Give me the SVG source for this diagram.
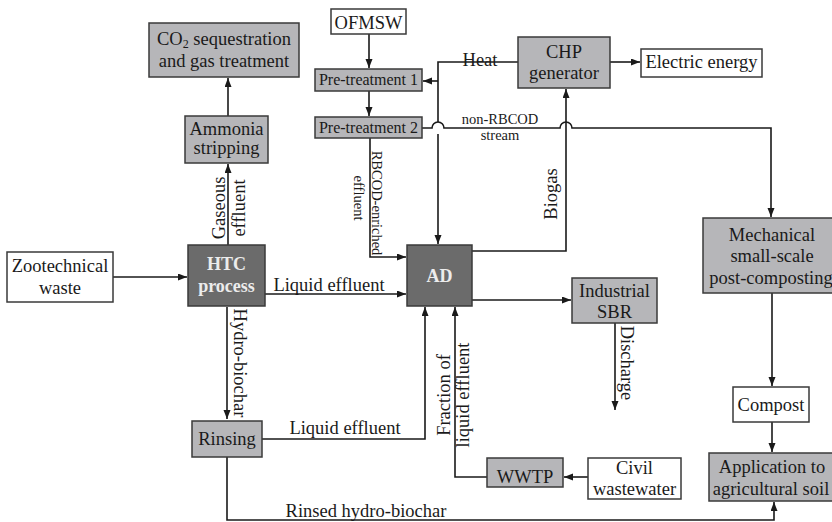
<svg xmlns="http://www.w3.org/2000/svg" width="832" height="522" viewBox="0 0 832 522">
<defs>
<marker id="ah" markerWidth="10" markerHeight="8" refX="9" refY="3.5" orient="auto" markerUnits="userSpaceOnUse">
<path d="M0,0 L9,3.5 L0,7 z" fill="#1a1a1a"/>
</marker>
<style>
.box{stroke:#3a3a3a;stroke-width:1.5}
.lt{fill:#b6b6b9}
.dk{fill:#6b6b6b}
.wh{fill:#ffffff}
.t{font-family:"Liberation Serif","Times New Roman",serif;font-size:18.5px;fill:#1a1a1a;text-anchor:middle}
.s{font-size:16px}
.xs{font-size:14.5px}
.b{font-weight:bold;fill:#ececec;font-size:18px}
.c{fill:none;stroke:#1a1a1a;stroke-width:1.6}
.a{marker-end:url(#ah)}
</style>
</defs>
<rect width="832" height="522" fill="#ffffff"/>

<g id="connectors">
<path class="c a" d="M228,116 V78"/>
<path class="c a" d="M228,245 V164"/>
<path class="c a" d="M369,34 V68"/>
<path class="c a" d="M369,91 V116"/>
<path class="c" d="M518,62 H438 V122"/>
<path class="c a" d="M438,134 V244"/>
<path class="c a" d="M438,81 H423"/>
<path class="c a" d="M422,128 H432 A6,6 0 0 1 444,128 H560 A6,6 0 0 1 572,128 H771 V217"/>
<path class="c a" d="M370,138 V257 H406"/>
<path class="c a" d="M113,277 H187"/>
<path class="c a" d="M265,294 H406"/>
<path class="c a" d="M472,251 H566 V89"/>
<path class="c a" d="M610,62 H640"/>
<path class="c a" d="M472,300 H571"/>
<path class="c a" d="M615,323 V410"/>
<path class="c a" d="M227,307 V419"/>
<path class="c a" d="M262,439 H425 V307"/>
<path class="c a" d="M487,477 H455 V307"/>
<path class="c a" d="M588,477 H564"/>
<path class="c a" d="M772,293 V386"/>
<path class="c a" d="M772,422 V452"/>
<path class="c a" d="M227,457 V520 H774 V502"/>

<text class="t" transform="translate(225,208) rotate(-90)">Gaseous</text>
<text class="t" transform="translate(245,208) rotate(-90)">effluent</text>
<text class="t" x="480" y="66">Heat</text>
<text class="t xs" x="500" y="124">non-RBCOD</text>
<text class="t xs" x="500" y="140">stream</text>
<text class="t xs" transform="translate(372,203) rotate(90)">RBCOD-enriched</text>
<text class="t xs" transform="translate(354,198) rotate(90)">effluent</text>
<text class="t" transform="translate(557,194) rotate(-90)">Biogas</text>
<text class="t" x="329" y="291">Liquid effluent</text>
<text class="t" transform="translate(234,363) rotate(90)">Hydro-biochar</text>
<text class="t" x="345" y="434">Liquid effluent</text>
<text class="t" transform="translate(450,395) rotate(-90)">Fraction of</text>
<text class="t" transform="translate(469,395) rotate(-90)">liquid effluent</text>
<text class="t" transform="translate(621,363) rotate(90)">Discharge</text>
<text class="t" x="366" y="517">Rinsed hydro-biochar</text>
</g>

<g id="co2">
<rect class="box lt" x="149" y="23" width="150" height="54"/>
<text class="t" x="224" y="45">CO<tspan font-size="12" dy="3">2</tspan><tspan dy="-3"> sequestration</tspan></text>
<text class="t" x="224" y="67">and gas treatment</text>
</g>
<g id="ammonia">
<rect class="box lt" x="185" y="116" width="83" height="47"/>
<text class="t" x="226.5" y="135">Ammonia</text>
<text class="t" x="226.5" y="154">stripping</text>
</g>
<g id="ofmsw">
<rect class="box wh" x="331" y="9" width="75" height="25"/>
<text class="t" x="368.5" y="29">OFMSW</text>
</g>
<g id="pre1">
<rect class="box lt" x="315" y="69" width="107" height="22"/>
<text class="t s" x="368.5" y="85">Pre-treatment 1</text>
</g>
<g id="pre2">
<rect class="box lt" x="315" y="117" width="107" height="21"/>
<text class="t s" x="368.5" y="133">Pre-treatment 2</text>
</g>
<g id="chp">
<rect class="box lt" x="518" y="37" width="92" height="51"/>
<text class="t" x="564" y="58">CHP</text>
<text class="t" x="564" y="79">generator</text>
</g>
<g id="electric">
<rect class="box wh" x="641" y="49" width="121" height="28"/>
<text class="t" x="701.5" y="68">Electric energy</text>
</g>
<g id="zootechnical">
<rect class="box wh" x="7" y="252" width="106" height="50"/>
<text class="t" x="60" y="272">Zootechnical</text>
<text class="t" x="60" y="294">waste</text>
</g>
<g id="htc">
<rect class="box dk" x="188" y="245" width="77" height="61"/>
<text class="t b" x="226.5" y="270">HTC</text>
<text class="t b" x="226.5" y="292">process</text>
</g>
<g id="ad">
<rect class="box dk" x="407" y="245" width="65" height="61"/>
<text class="t b" x="439.5" y="282">AD</text>
</g>
<g id="sbr">
<rect class="box lt" x="572" y="278" width="85" height="45"/>
<text class="t" x="614.5" y="297">Industrial</text>
<text class="t" x="614.5" y="318">SBR</text>
</g>
<g id="mechanical">
<rect class="box lt" x="703" y="218" width="135" height="75"/>
<text class="t" x="772" y="241">Mechanical</text>
<text class="t" x="772" y="262">small-scale</text>
<text class="t" x="771" y="284">post-composting</text>
</g>
<g id="compost">
<rect class="box wh" x="733" y="387" width="76" height="35"/>
<text class="t" x="771" y="411">Compost</text>
</g>
<g id="application">
<rect class="box lt" x="709" y="453" width="129" height="48"/>
<text class="t" x="772" y="473">Application to</text>
<text class="t" x="771" y="495">agricultural soil</text>
</g>
<g id="rinsing">
<rect class="box lt" x="192" y="421" width="70" height="36"/>
<text class="t" x="227" y="445">Rinsing</text>
</g>
<g id="wwtp">
<rect class="box lt" x="487" y="458" width="76" height="29"/>
<text class="t" x="525" y="483">WWTP</text>
</g>
<g id="civil">
<rect class="box wh" x="588" y="458" width="93" height="41"/>
<text class="t" x="634.5" y="474">Civil</text>
<text class="t" x="634.5" y="495">wastewater</text>
</g>
</svg>
